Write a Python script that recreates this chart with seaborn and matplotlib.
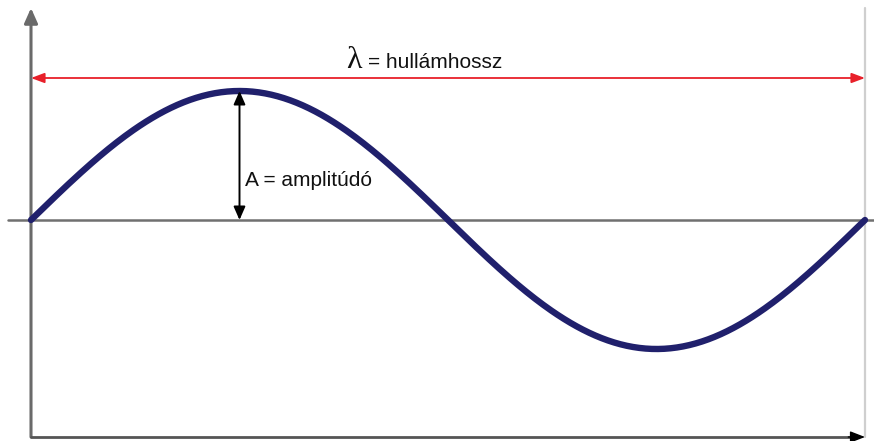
import numpy as np
import pandas as pd
import matplotlib
matplotlib.use('Agg')
import matplotlib.pyplot as plt
import seaborn as sns

# wave parameters (one full wavelength shown)
wavelength = 1.0
amplitude = 1.0
phase = np.linspace(0, wavelength, 400)
displacement = amplitude * np.sin(2 * np.pi * phase / wavelength)

lambda_symbol = 'λ'
lambda_text = '= hullámhossz'
amp_text = 'A = amplitúdó'

df = pd.DataFrame({'x': phase, 'y': displacement})

sns.set_style('white')
plt.rcParams['font.family'] = ['Liberation Sans', 'DejaVu Sans']

fig = plt.figure(figsize=(8.74, 4.41), dpi=100)
ax = fig.add_axes([0, 0, 1, 1])

# pixel-based limits: x=0 at 31px, x=1 at 865px; y=0 at 220px, A=129px
ax.set_xlim(-31 / 834, 843 / 834)
ax.set_ylim(-221 / 129, 220 / 129)
ax.axis('off')

y_bottom = -217 / 129
y_top = 212 / 129

# faint right border line
ax.plot([wavelength, wavelength], [y_bottom, y_top], color='#cfcfcf', lw=1.6, zorder=1)

# horizontal centre line
ax.plot([-23 / 834, 843 / 834], [0, 0], color='#707070', lw=1.8, zorder=2)

# vertical axis with arrow
ax.annotate('', xy=(0, y_top), xytext=(0, y_bottom),
            arrowprops=dict(arrowstyle='-|>,head_length=0.9,head_width=0.4',
                            color='#6a6a6a', lw=2.2, shrinkA=0, shrinkB=0), zorder=3)

# bottom axis with arrow
ax.plot([0, wavelength - 0.01], [y_bottom, y_bottom], color='#555555', lw=2.0, zorder=3)
ax.annotate('', xy=(wavelength, y_bottom), xytext=(wavelength - 0.02, y_bottom),
            arrowprops=dict(arrowstyle='-|>,head_length=0.9,head_width=0.35',
                            color='black', lw=1.0, shrinkA=0, shrinkB=0), zorder=3)

# the wave
sns.lineplot(data=df, x='x', y='y', ax=ax, color='#20206c', lw=4.6,
             solid_capstyle='round', zorder=5)

# wavelength arrow
y_lam = 142 / 129
ax.annotate('', xy=(wavelength, y_lam), xytext=(0, y_lam),
            arrowprops=dict(arrowstyle='<|-|>,head_length=0.8,head_width=0.3',
                            color='#e8202a', lw=1.3, shrinkA=0, shrinkB=0), zorder=4)
ax.text(0.387, 160 / 129, lambda_symbol, fontsize=23, family=['Liberation Serif', 'DejaVu Serif'],
        ha='center', va='center', color='#111111')
ax.text(0.404, 157 / 129, lambda_text, fontsize=15, ha='left', va='center', color='#111111')

# amplitude arrow
x_amp = wavelength / 4
ax.annotate('', xy=(x_amp, amplitude), xytext=(x_amp, 0),
            arrowprops=dict(arrowstyle='<|-|>,head_length=0.8,head_width=0.35',
                            color='black', lw=1.4, shrinkA=0, shrinkB=0), zorder=6)
ax.text(x_amp + 0.006, 40 / 129, amp_text, fontsize=15, ha='left', va='center', color='#111111')

fig.savefig('out.png', dpi=100)
